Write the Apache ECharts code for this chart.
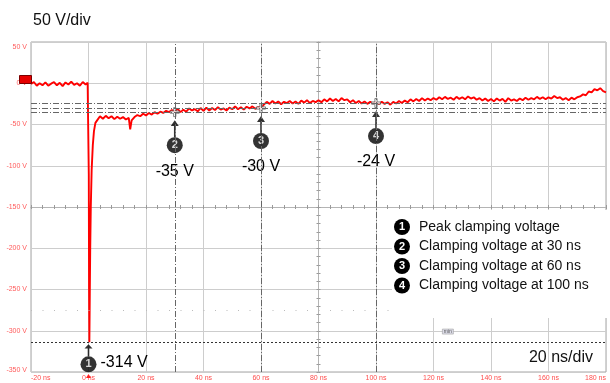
<!DOCTYPE html>
<html>
<head>
<meta charset="utf-8">
<title>Clamping voltage</title>
<script src="https://cdn.jsdelivr.net/npm/echarts@6/dist/echarts.min.js"></script>
<style>
    html, body { margin: 0; padding: 0; background: #fff; }
    #scope { width: 610px; height: 383px; }
</style>
</head>
<body>
<div id="scope"></div>
<script>
// trace samples: [time ns, volts]
var preTrigger = [[-20,-1],[-19,1.5],[-18,-3],[-17,0],[-16,-2.5],[-15,1],[-14,-3],[-13,-0.5],[-12,1.5],[-11,-2.5],
    [-10,0.5],[-9,-3.5],[-8,1],[-7,-1.5],[-6,2],[-5,-2],[-4,0],[-3,-3],[-2,1.5],[-1,-1.5],[-0.3,0.5],[0,-1]];
var spike = [[0.1,-110],[0.2,-250],[0.3,-314],[0.45,-255],[0.6,-200],[0.8,-150],[1.1,-105],[1.5,-75],[1.9,-58],[2.4,-48]];
var settle = [[3,-45],[4,-40],[5,-43],[6,-39.5],[7,-42.5],[8,-40],[9,-43.5],[10,-40.5],[11,-43],[12,-41],
    [13,-44],[14,-42],[14.5,-56],[15,-45],[16,-41],[17,-38.5],[18,-40],[19,-37],[20,-39],[21,-36],
    [22,-38],[23,-35],[24,-37],[25,-34.5],[26,-36],[27,-33.5],[28,-35],[29,-32.5],[30,-34]];
var tail = [
    [31,-31],[32,-35],[33,-32],[34,-34.5],[35,-30.5],[36,-33],[37,-31.5],[38,-34],[39,-30],[40,-33.5],
    [41,-29.5],[42,-33],[43,-30],[44,-32.5],[45,-29],[46,-32],[47,-30.5],[48,-33],[49,-29.5],[50,-31.5],
    [51,-28],[52,-31.5],[53,-29],[54,-32],[55,-28.5],[56,-30.5],[57,-28],[58,-31],[59,-29],[60,-30],
    [61,-26],[62,-22.5],[63,-25],[64,-21.5],[65,-24.5],[66,-22],[67,-25.5],[68,-22.5],[69,-24],[70,-21.5],
    [71,-24.5],[72,-22],[73,-25],[74,-21],[75,-23.5],[76,-20.5],[77,-24],[78,-21.5],[79,-23],[80,-20.5],
    [81,-23],[82,-19.5],[83,-22],[84,-18.5],[85,-21.5],[86,-19],[87,-22],[88,-18],[89,-20.5],[90,-19.5],
    [91,-23],[92,-20.5],[93,-24],[94,-21.5],[95,-24.5],[96,-22],[97,-25],[98,-22.5],[99,-24.5],[100,-23],
    [101,-25.5],[102,-22.5],[103,-25],[104,-23],[105,-26],[106,-22.5],[107,-24.5],[108,-21.5],[109,-24],[110,-21],
    [111,-23],[112,-19.5],[113,-22],[114,-19],[115,-21.5],[116,-18],[117,-21],[118,-18.5],[119,-20.5],[120,-18],
    [121,-20],[122,-17],[123,-19.5],[124,-16.5],[125,-19],[126,-17.5],[127,-20],[128,-16.5],[129,-19],[130,-17],
    [131,-19.5],[132,-16],[133,-18.5],[134,-17],[135,-20],[136,-18],[137,-21],[138,-18.5],[139,-21.5],[140,-19],
    [141,-22],[142,-18.5],[143,-21],[144,-19],[145,-22.5],[146,-18],[147,-21],[148,-19.5],[149,-21.5],[150,-18.5],
    [151,-20.5],[152,-17.5],[153,-20],[154,-18],[155,-19.5],[156,-16.5],[157,-19],[158,-17],[159,-19.5],[160,-17],
    [161,-18.5],[162,-15.5],[163,-18],[164,-17],[165,-20],[166,-18],[167,-20.5],[168,-17.5],[169,-19.5],[170,-17],
    [171,-16],[172,-13.5],[173,-14.5],[174,-10],[175,-11],[176,-7],[177,-8.5],[178,-6],[179,-9.5],[180,-11]];

// cursors and readouts
var cursorTimes = [30, 60, 100];
var cursorVolts = [-35, -30, -24];
var peakTime = 0;
var peakVolt = -314;
var triggerDots = -275;
var minTag = [125, -301];
var legendItems = ['Peak clamping voltage', 'Clamping voltage at 30 ns', 'Clamping voltage at 60 ns', 'Clamping voltage at 100 ns'];

var xMin = -20, xMax = 180, xStep = 20;
var yMin = -350, yMax = 50, yStep = 50;

var FONT = '"Liberation Sans", Arial, sans-serif';
var dashDot = [6, 2, 1, 2];

var trace = preTrigger.concat(spike, settle, tail);

var cursorPts = cursorTimes.map(function (t, i) { return [t, cursorVolts[i]]; });

var guideLines = [];
cursorVolts.forEach(function (v) { guideLines.push({ yAxis: v, lineStyle: { type: dashDot, color: '#666', width: 1 } }); });
cursorTimes.forEach(function (t) { guideLines.push({ xAxis: t, lineStyle: { type: dashDot, color: '#666', width: 1 } }); });
guideLines.push({ yAxis: peakVolt, lineStyle: { type: [2, 2], color: '#333', width: 1 } });
guideLines.push({ yAxis: triggerDots, lineStyle: { type: [1, 10.5], color: '#bbb', width: 1 } });

// badges under each cursor
var badgeData = [{ value: [peakTime, peakVolt], symbolOffset: [0, 22], label: { formatter: '1' } }];
var arrowData = [{ value: [peakTime, peakVolt], symbolSize: [8, 12], symbolOffset: [0, 8] }];
var readoutData = [{ value: [peakTime, peakVolt], label: { formatter: peakVolt + ' V', offset: [12, 20], align: 'left' } }];
cursorPts.forEach(function (p, i) {
    badgeData.push({ value: p, symbolOffset: [0, 33], label: { formatter: String(i + 2) } });
    arrowData.push({ value: p, symbolSize: [8, 17], symbolOffset: [0, 16.5] });
    readoutData.push({ value: p, label: { formatter: p[1] + ' V', offset: [0, 59], align: 'center' } });
});

// legend panel, drawn over the graticule
var legendChildren = [{ type: 'rect', z: 100, shape: { x: 0, y: 0, width: 216, height: 108 }, style: { fill: '#fff' } }];
legendItems.forEach(function (txt, i) {
    var cy = 17 + i * 19.5;
    legendChildren.push({ type: 'circle', z: 101, shape: { cx: 10, cy: cy, r: 8 }, style: { fill: '#000' } });
    legendChildren.push({ type: 'text', z: 102, x: 10, y: cy, style: { text: String(i + 1), fill: '#fff', font: 'bold 11px ' + FONT, align: 'center', verticalAlign: 'middle' } });
    legendChildren.push({ type: 'text', z: 101, x: 27, y: cy, style: { text: txt, fill: '#111', font: '14px ' + FONT, verticalAlign: 'middle' } });
});

var chart = echarts.init(document.getElementById('scope'));

function centerAxis(kind, inside) {
    var a = {
        type: 'value', show: true, silent: true,
        axisLine: { show: true, lineStyle: { color: '#b4b4b4' } },
        axisTick: { show: true, inside: inside, length: 2, lineStyle: { color: '#9a9a9a' } },
        axisLabel: { show: false }, splitLine: { show: false }
    };
    if (kind === 'x') {
        a.position = 'bottom'; a.offset = -165; a.min = xMin; a.max = xMax; a.interval = 4;
    } else {
        a.position = 'left'; a.offset = -287.5; a.min = yMin; a.max = yMax; a.interval = 10;
    }
    return a;
}

var option = {
    animation: false,
    backgroundColor: '#fff',
    textStyle: { fontFamily: FONT },
    grid: { left: 31, top: 42, width: 575, height: 330, show: true, borderColor: '#a4a4a4', borderWidth: 1, backgroundColor: 'transparent' },
    xAxis: [{
        type: 'value', min: xMin, max: xMax, interval: xStep,
        axisLine: { show: false }, axisTick: { show: false },
        splitLine: { show: true, lineStyle: { color: '#cdcdcd', width: 1 } },
        axisLabel: { formatter: '{value} ns', fontSize: 7, color: '#ff4d4d', margin: 3, alignMinLabel: 'left', alignMaxLabel: 'right', fontFamily: FONT }
    }, centerAxis('x', true), centerAxis('x', false)],
    yAxis: [{
        type: 'value', min: yMin, max: yMax, interval: yStep,
        axisLine: { show: false }, axisTick: { show: false },
        splitLine: { show: true, lineStyle: { color: '#cdcdcd', width: 1 } },
        axisLabel: {
            fontSize: 7, color: '#ff5c5c', margin: 4, fontFamily: FONT,
            formatter: function (v) {
                if (v === yMax) return '{t|' + v + ' V}';
                if (v === yMin) return '{b|' + v + ' V}';
                return v + ' V';
            },
            rich: {
                t: { fontSize: 7, color: '#ff5c5c', padding: [10, 0, 0, 0], fontFamily: FONT },
                b: { fontSize: 7, color: '#ff5c5c', padding: [0, 0, 4, 0], fontFamily: FONT }
            }
        }
    }, centerAxis('y', true), centerAxis('y', false)],
    series: [{
        name: 'guides', type: 'scatter', z: 1, silent: true,
        data: cursorPts, symbolSize: 0,
        markLine: { silent: true, symbol: ['none', 'none'], label: { show: false }, data: guideLines },
        markPoint: {
            silent: true,
            data: [
                { coord: minTag, symbol: 'rect', symbolSize: [11, 5], itemStyle: { color: '#dcdce8', borderColor: '#999', borderWidth: 0.5 },
                  label: { show: true, formatter: 'min', fontSize: 5, color: '#555', position: 'inside' } },
                { coord: [peakTime, yMin], symbol: 'triangle', symbolSize: [5, 4], symbolOffset: [0, 4], itemStyle: { color: '#ff2020' }, label: { show: false } }
            ]
        }
    }, {
        name: 'trace', type: 'line', z: 2, silent: true,
        data: trace, showSymbol: false,
        lineStyle: { color: '#ff0000', width: 1.9 }
    }, {
        name: 'cursor', type: 'scatter', z: 3, silent: true,
        data: cursorPts,
        symbol: 'path://M3,0 H5 V3 H8 V5 H5 V8 H3 V5 H0 V3 H3 Z', symbolSize: 9,
        itemStyle: { color: '#fff', borderColor: '#666', borderWidth: 1 }
    }, {
        name: 'arrows', type: 'scatter', z: 4, silent: true,
        data: arrowData,
        symbol: 'path://M4,0 L8,7 L4.8,7 L4.8,20 L3.2,20 L3.2,7 L0,7 Z',
        itemStyle: { color: '#000' }
    }, {
        name: 'badges', type: 'scatter', z: 4, silent: true,
        data: badgeData, symbol: 'circle', symbolSize: 16,
        itemStyle: { color: '#000' },
        label: { show: true, position: 'inside', color: '#fff', fontSize: 11, fontWeight: 'bold', fontFamily: FONT }
    }, {
        name: 'readouts', type: 'scatter', z: 4, silent: true,
        data: readoutData, symbolSize: 1,
        itemStyle: { color: '#fff', opacity: 1 },
        label: { show: true, position: 'inside', color: '#000', opacity: 1, textBorderWidth: 0, fontSize: 16, fontFamily: FONT, verticalAlign: 'middle' }
    }],
    graphic: [
        { type: 'text', left: 33, top: 13, z: 100, style: { text: '50 V/div', fill: '#111', font: '16px ' + FONT } },
        { type: 'text', right: 17, top: 350, z: 100, style: { text: '20 ns/div', fill: '#111', font: '16px ' + FONT } },
        { type: 'rect', left: 19, top: 75, z: 100, shape: { width: 12, height: 8 }, style: { fill: '#e60000', stroke: '#7a0000', lineWidth: 1 } },
        { type: 'group', left: 392, top: 210, children: legendChildren }
    ]
};

chart.setOption(option);
</script>
</body>
</html>
